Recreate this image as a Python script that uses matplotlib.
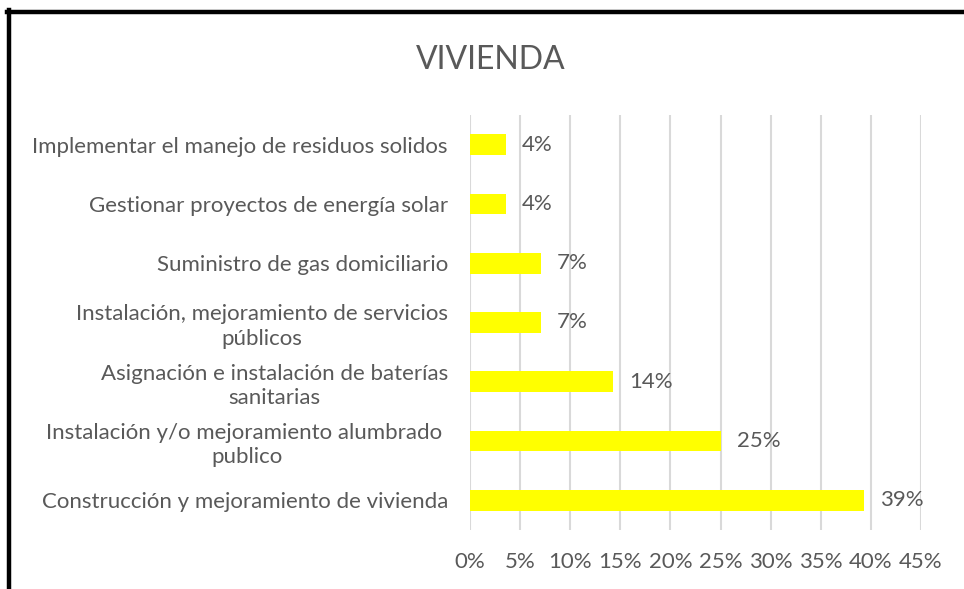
import matplotlib.pyplot as plt
from matplotlib.lines import Line2D
from matplotlib.ticker import PercentFormatter
from matplotlib.transforms import offset_copy

# data (bottom to top)
categories = ['Construcción y mejoramiento de vivienda',
              'Instalación y/o mejoramiento alumbrado \npublico',
              'Asignación e instalación de baterías\nsanitarias',
              'Instalación, mejoramiento de servicios\npúblicos',
              'Suministro de gas domiciliario',
              'Gestionar proyectos de energía solar',
              'Implementar el manejo de residuos solidos']
values = [0.393, 0.25, 0.143, 0.071, 0.071, 0.036, 0.036]
labels = ['39%', '25%', '14%', '7%', '7%', '4%', '4%']
xticks = [0, 0.05, 0.10, 0.15, 0.20, 0.25, 0.30, 0.35, 0.40, 0.45]

txt = '#595959'
plt.rcParams['font.family'] = ['Lato', 'DejaVu Sans']

fig = plt.figure(figsize=(9.64, 5.89), dpi=100)
ax = fig.add_axes([470 / 964, 1 - 530 / 589, 451 / 964, 415 / 589])

y = range(len(categories))
ax.barh(y, values, height=0.35, color='#FFFF00', zorder=3)
for yi, v, lab in zip(y, values, labels):
    ax.text(v + 0.016, yi, lab, va='center', ha='left', fontsize=16, color=txt)

ax.set_xlim(0, 0.45)
ax.set_ylim(-0.5, 6.5)
ax.set_xticks(xticks)
ax.xaxis.set_major_formatter(PercentFormatter(1.0, decimals=0))
ax.set_yticks(list(y))
ax.set_yticklabels(categories, ha='center', multialignment='center', linespacing=1.27)
ax.tick_params(axis='y', length=0, pad=0, labelsize=16, labelcolor=txt)
ax.tick_params(axis='x', length=0, pad=16, labelsize=16, labelcolor=txt)
ax.grid(axis='x', color='#D9D9D9', linewidth=1.5, zorder=0)
for s in ax.spines.values():
    s.set_visible(False)

fig.canvas.draw()
# right-align the wrapped label blocks while keeping lines centred
for lab in ax.get_yticklabels():
    w = lab.get_window_extent().width
    lab.set_transform(offset_copy(lab.get_transform(), fig=fig, x=-(22 + w / 2), units='dots'))

fig.text(491 / 964, 1 - 60 / 589, 'VIVIENDA', ha='center', va='center',
         fontsize=23, color=txt)

# black frame on top and left
fig.add_artist(Line2D([7 / 964, 1], [1 - 12 / 589, 1 - 12 / 589], color='black', linewidth=3.2))
fig.add_artist(Line2D([9 / 964, 9 / 964], [0, 1 - 10 / 589], color='black', linewidth=3.2))

fig.savefig('out.png', dpi=100)
